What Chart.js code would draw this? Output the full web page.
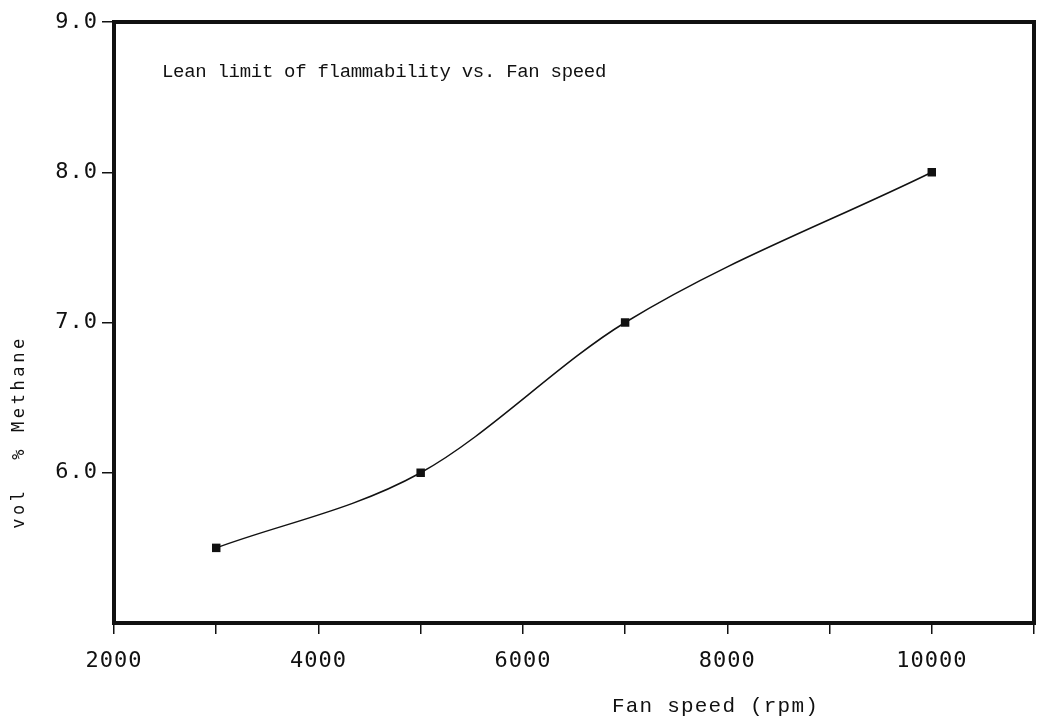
<!DOCTYPE html>
<html>
<head>
<meta charset="utf-8">
<title>Lean limit of flammability vs. Fan speed</title>
<script src="https://cdn.jsdelivr.net/npm/chart.js@4.4.1/dist/chart.umd.min.js"></script>
<style>
  html, body { margin: 0; padding: 0; background: #fff; }
  canvas { display: block; }
</style>
</head>
<body>
<canvas id="c" width="1040" height="719"></canvas>
<script>
// Measured lean flammability limit against fan speed
const fanSpeed = [3000, 5000, 7000, 10000];      // rpm
const methanePct = [5.5, 6.0, 7.0, 8.0];         // vol % methane
const xTickLabels = [2000, 4000, 6000, 8000, 10000];
const yTickLabels = [6.0, 7.0, 8.0, 9.0];
const chartTitle = 'Lean limit of flammability vs. Fan speed';
const xTitle = 'Fan speed (rpm)';
const yTitle = 'vol  % Methane';

const INK = '#111';
const tickFont = { family: '"DejaVu Sans Mono", monospace', size: 22 };

// Heavy frame around the plot plus the free-standing title and axis captions
const frameAndCaptions = {
  id: 'frameAndCaptions',
  beforeDraw(chart) {
    chart.ctx.letterSpacing = '1px';
  },
  afterDraw(chart) {
    const { ctx, chartArea: a } = chart;
    ctx.save();
    ctx.strokeStyle = INK;
    ctx.lineWidth = 4;
    ctx.strokeRect(a.left, a.top, a.right - a.left, a.bottom - a.top);

    ctx.fillStyle = INK;
    ctx.textBaseline = 'alphabetic';
    ctx.textAlign = 'left';
    ctx.font = '19px "Liberation Mono", monospace';
    ctx.letterSpacing = '-0.3px';
    ctx.fillText(chartTitle, a.left + 48, a.top + 55);

    ctx.font = '21px "Liberation Mono", monospace';
    ctx.letterSpacing = '1.2px';
    ctx.fillText(xTitle, a.left + 498, a.bottom + 89);

    ctx.translate(20, 432);
    ctx.rotate(-Math.PI / 2);
    ctx.textAlign = 'center';
    ctx.textBaseline = 'middle';
    ctx.font = '17px "DejaVu Sans Mono", monospace';
    ctx.letterSpacing = '3.6px';
    ctx.fillText(yTitle, 0, 0);
    ctx.restore();
  }
};

new Chart(document.getElementById('c'), {
  type: 'line',
  data: {
    datasets: [{
      data: fanSpeed.map((x, i) => ({ x, y: methanePct[i] })),
      borderColor: INK,
      borderWidth: 1.5,
      backgroundColor: INK,
      pointStyle: 'rect',
      pointRadius: 6,
      pointBackgroundColor: INK,
      pointBorderColor: INK,
      pointBorderWidth: 0,
      cubicInterpolationMode: 'monotone',
      fill: false
    }]
  },
  options: {
    responsive: false,
    animation: false,
    devicePixelRatio: 1,
    layout: { padding: { top: 22, right: 6, left: 0, bottom: 0 } },
    plugins: {
      legend: { display: false },
      tooltip: { enabled: false },
      title: { display: false }
    },
    scales: {
      x: {
        type: 'linear',
        min: 2000,
        max: 11000,
        afterFit(scale) {
          scale.height = 96;
          scale.paddingLeft = 0;
          scale.paddingRight = 0;
        },
        border: { display: false },
        grid: {
          drawOnChartArea: false,
          drawTicks: true,
          tickLength: 11,
          color: INK,
          lineWidth: 1.5
        },
        ticks: {
          stepSize: 1000,
          autoSkip: false,
          maxRotation: 0,
          padding: 14,
          color: INK,
          font: tickFont,
          callback: v => xTickLabels.includes(v) ? String(v) : ''
        }
      },
      y: {
        type: 'linear',
        min: 5,
        max: 9,
        afterFit(scale) {
          scale.width = 114;
          scale.paddingTop = 0;
          scale.paddingBottom = 0;
        },
        border: { display: false },
        grid: {
          drawOnChartArea: false,
          drawTicks: true,
          tickLength: 12,
          color: c => (c.tick && yTickLabels.includes(c.tick.value)) ? INK : 'rgba(0,0,0,0)',
          lineWidth: 1.5
        },
        ticks: {
          stepSize: 1,
          padding: 4,
          color: INK,
          font: tickFont,
          callback: v => yTickLabels.includes(v) ? v.toFixed(1) : ''
        }
      }
    }
  },
  plugins: [frameAndCaptions]
});
</script>
</body>
</html>
